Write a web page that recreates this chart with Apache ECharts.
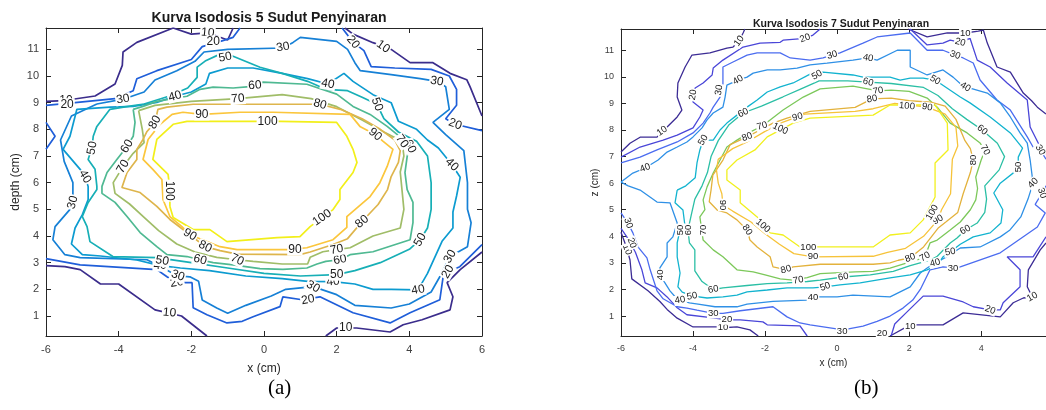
<!DOCTYPE html>
<html>
<head>
<meta charset="utf-8">
<script src="https://cdn.jsdelivr.net/npm/echarts@6/dist/echarts.min.js"></script>
<style>
  html, body { margin: 0; padding: 0; background: #fff; }
  #chart { width: 1046px; height: 410px; }
</style>
</head>
<body>
<div id="chart"></div>
<script>
// contour levels and ticks
const levels = [10, 20, 30, 40, 50, 60, 70, 80, 90, 100];
const yTicks = [1, 2, 3, 4, 5, 6, 7, 8, 9, 10, 11];
const xTicksA = [-6, -4, -2, 0, 2, 4, 6];
const xTicksB = [-6, -4, -2, 0, 2, 4];

// ---- panel (a): 5 beams, each level is a list of line pieces [x, depth] ----
const a10 = [
  [[-6,9.05],[-5.5,9.08],[-4.65,9.25],[-4.1,9.7],[-3.9,10.4],[-3.88,10.9],[-3.5,11.26],[-2.5,11.8],[-2.0,11.57],[-1.55,11.62],[-1.0,11.35],[-0.85,11.8]],
  [[2.23,11.8],[2.45,11.57],[3.0,11.25],[3.5,11.0],[4.02,10.5],[4.65,10.5],[5.12,10.1],[5.58,9.86],[5.67,9.6],[6,8.5]],
  [[-6,2.89],[-5.48,2.85],[-5.06,2.74],[-4.5,2.2],[-4.0,2.2],[-3.0,1.23],[-2.27,1.0],[-1.57,0.25]],
  [[1.7,0.25],[2.0,0.55],[2.55,0.55],[3.47,0.4],[3.83,0.67],[4.35,0.86],[5.12,1.23],[5.2,1.72],[5.04,2.25],[5.4,2.74],[6,3.4]]
];
const a20 = [
  [[-6,8.9],[-5.2,9.0],[-4.1,9.15],[-3.6,9.45],[-3.5,9.9],[-2.95,10.2],[-2.0,10.62],[-1.7,11.1],[-1.2,11.3],[-0.85,11.45],[-0.66,11.8]],
  [[-6,8.26],[-5.75,7.74],[-6,7.25]],
  [[2.15,11.8],[2.45,11.27],[2.75,10.95],[2.95,10.35],[3.6,10.3],[4.6,10.25],[5.1,10.0],[5.3,9.5],[5.3,8.9],[5.0,8.4],[5.26,8.19],[6,7.95]],
  [[-6,3.15],[-5.06,2.92],[-2.95,2.74],[-2.67,2.47],[-2.4,2.25],[-1.98,2.25],[-1.95,1.31],[-1.57,1.05],[-1.02,0.74],[-0.6,0.8],[-0.3,0.97],[0.44,1.35],[0.52,1.72],[1.05,1.61],[1.54,1.72],[2.45,1.12],[3.47,0.74],[4.02,1.12],[4.84,1.61],[4.93,2.47],[5.06,2.66],[5.39,2.85],[6,3.68]]
];
const a30 = [
  [[-4.6,8.95],[-3.88,9.13],[-3.3,9.4],[-3.0,9.85],[-2.4,10.2],[-1.9,10.55],[-1.65,10.9],[-1.0,11.0],[0.52,11.05],[0.8,11.26],[1.0,11.45],[2.0,11.3],[2.3,11.0],[2.5,10.5],[2.65,10.2],[3.5,10.05],[4.3,9.9],[4.76,9.8],[5.0,9.6],[5.1,8.75],[4.65,8.26],[5.0,7.8],[5.5,7.2],[5.6,6.0],[5.6,5.0],[5.7,4.5],[5.6,3.6],[5.12,3.23],[4.85,2.5],[4.6,1.9],[4.0,1.45],[3.5,1.3],[2.5,1.4],[2.0,1.8],[1.35,2.1],[0.6,2.0],[0.2,1.75],[-0.5,1.4],[-1.0,1.1],[-1.3,1.3],[-1.7,1.6],[-1.8,2.3],[-2.04,2.47],[-2.37,2.51],[-2.59,2.66],[-2.95,2.92],[-3.22,3.11],[-5.06,3.19],[-5.48,3.3],[-5.81,3.86],[-5.75,4.35],[-5.34,5.0],[-5.26,5.26],[-5.26,6.0],[-5.5,6.8],[-5.6,7.6],[-5.3,8.5],[-4.6,8.95]]
];
const a40 = [
  [[-5.53,7.25],[-5.34,7.74],[-5.15,8.75],[-4.24,8.83],[-3.6,8.86],[-2.95,9.01],[-2.45,9.24],[-2.0,9.4],[-1.6,9.7],[-1.5,10.1],[-1.0,10.3],[-0.3,10.3],[0.5,10.1],[1.2,9.9],[1.76,9.7],[2.2,10.1],[2.45,9.8],[3.0,9.3],[3.5,9.0],[3.7,8.3],[4.2,8.0],[4.5,7.6],[4.8,7.3],[5.17,6.68],[5.4,6.2],[5.3,5.5],[5.2,4.9],[5.2,4.3],[4.9,3.8],[4.5,2.6],[4.24,1.98],[3.5,2.0],[3.0,2.0],[2.5,2.2],[1.9,2.29],[1.2,2.3],[0.5,2.4],[-0.5,2.5],[-1.5,2.7],[-2.3,2.8],[-2.86,2.89],[-3.5,3.1],[-4.5,3.25],[-5.0,3.3],[-5.3,3.7],[-5.2,4.3],[-5.0,4.8],[-4.84,5.37],[-4.84,5.86],[-4.93,6.23],[-5.06,6.5],[-5.53,7.25]]
];
const a50 = [
  [[-4.6,8.11],[-4.24,8.75],[-3.74,8.86],[-3.3,8.95],[-2.6,9.25],[-2.1,9.55],[-1.84,9.95],[-1.84,10.33],[-1.62,10.56],[-1.21,10.82],[-0.85,10.74],[-0.11,10.33],[0.5,10.1],[1.2,9.8],[1.7,9.5],[2.3,9.45],[2.7,9.2],[3.11,8.94],[3.3,8.4],[3.7,7.9],[4.2,7.55],[4.5,7.0],[4.6,6.0],[4.6,5.0],[4.5,4.3],[4.3,3.86],[4.0,3.5],[3.2,3.0],[2.5,2.7],[2.0,2.55],[1.0,2.5],[0,2.6],[-1.0,2.8],[-2.0,3.0],[-2.95,3.19],[-4.16,3.23],[-4.79,3.79],[-4.87,4.35],[-5.0,4.73],[-4.84,5.26],[-4.6,5.74],[-4.6,5.86],[-4.65,6.5],[-4.84,6.87],[-4.73,7.36],[-4.7,7.74],[-4.6,8.11]]
];
const a60 = [
  [[-3.6,8.75],[-3.55,8.26],[-3.6,7.74],[-3.77,7.36],[-4.05,6.87],[-4.32,6.38],[-4.46,5.86],[-4.46,5.6],[-4.1,5.26],[-3.77,4.73],[-3.41,4.13],[-2.95,3.6],[-2.67,3.3],[-2.12,3.23],[-1.76,3.11],[-1.4,3.0],[-0.85,2.92],[-0.11,2.78],[0.52,2.75],[1.18,2.8],[1.46,2.95],[1.7,3.05],[2.09,3.11],[2.37,3.3],[3.0,3.41],[4.02,3.86],[4.1,4.5],[4.1,5.26],[3.94,5.74],[3.88,6.38],[3.94,6.98],[4.02,7.36],[3.83,7.62],[3.39,8.11],[2.92,8.56],[2.45,8.86],[2.0,9.32],[1.18,9.69],[-0.03,9.77],[-0.39,9.6],[-0.85,9.55],[-1.4,9.58],[-1.76,9.5],[-2.12,9.24],[-2.95,9.05],[-3.33,8.86],[-3.6,8.75]]
];
const a70 = [
  [[-3.45,8.7],[-3.0,8.9],[-2.0,9.05],[-0.72,9.15],[0.5,9.3],[1.3,9.15],[2.0,8.85],[2.7,8.35],[3.3,7.9],[3.8,7.55],[3.85,7.0],[3.75,6.4],[3.8,5.7],[3.85,5.0],[3.75,4.3],[3.0,4.0],[2.37,3.56],[2.0,3.49],[1.62,3.41],[1.27,3.2],[1.2,2.95],[0.5,2.95],[-0.3,3.05],[-0.74,3.11],[-1.3,3.2],[-1.9,3.4],[-2.4,3.7],[-2.9,4.2],[-3.3,4.7],[-3.7,5.2],[-4.1,5.6],[-4.15,6.0],[-3.88,6.6],[-3.6,7.1],[-3.3,7.5],[-3.35,8.0],[-3.45,8.7]]
];
const a80 = [
  [[-3.0,8.26],[-2.92,8.75],[-2.67,8.83],[-1.95,8.94],[-0.1,8.94],[1.0,8.94],[1.54,8.94],[2.1,8.75],[2.7,8.4],[3.2,8.0],[3.6,7.6],[3.75,7.2],[3.7,6.76],[3.5,6.23],[3.4,5.74],[3.14,5.18],[2.75,4.62],[2.3,3.9],[1.9,3.68],[1.27,3.4],[0.99,3.3],[-0.74,3.32],[-1.21,3.45],[-1.62,3.6],[-2.12,4.13],[-2.59,4.62],[-2.95,5.11],[-3.41,5.63],[-3.91,5.82],[-3.77,6.38],[-3.5,6.87],[-3.5,7.25],[-3.33,7.62],[-3.22,7.92],[-3.0,8.26]]
];
const a90 = [
  [[3.06,7.81],[2.64,8.11],[2.37,8.56],[0.25,8.64],[-0.66,8.64],[-1.71,8.56],[-2.23,8.64],[-2.53,8.56],[-2.86,8.19],[-3.19,7.62],[-3.33,6.87],[-3.06,6.5],[-2.81,6.12],[-2.78,5.37],[-2.59,4.73],[-2.26,4.35],[-2.04,4.05],[-1.21,3.6],[-0.74,3.49],[0.63,3.49],[1.18,3.56],[1.9,3.86],[2.28,4.32],[2.28,4.73],[2.92,5.48],[3.19,6.0],[3.39,6.61],[3.55,7.25],[3.28,7.55],[3.06,7.81]]
];
const a100 = [
  [[-2.59,5.11],[-2.5,4.69],[-1.95,4.24],[-1.49,4.24],[-1.02,3.79],[0.36,3.94],[0.99,3.98],[1.27,4.35],[1.6,4.69],[1.9,4.99],[2.09,5.37],[2.09,5.74],[2.45,6.38],[2.56,6.76],[2.45,7.25],[2.28,7.74],[2.0,8.26],[0.44,8.3],[-0.66,8.3],[-2.12,8.3],[-2.5,8.19],[-2.95,7.62],[-3.06,6.87],[-2.64,6.31],[-2.59,5.74],[-2.59,5.11]]
];
// contour label positions [x, y, text, rotation]
const aLabels = [
  [-5.45,9.07,'10',0],[-1.55,11.62,'10',-5],[3.28,11.1,'10',-35],[-2.6,1.12,'10',-5],[2.25,0.55,'10',0],
  [-5.42,8.94,'20',0],[-1.4,11.3,'20',0],[2.45,11.27,'20',-50],[5.26,8.19,'20',-20],[5.06,2.66,'20',60],[1.21,1.61,'20',10],[-2.4,2.25,'20',10],
  [-3.88,9.13,'30',10],[0.52,11.08,'30',10],[4.76,9.8,'30',-10],[5.12,3.23,'30',60],[1.35,2.1,'30',-30],[-2.37,2.51,'30',-20],[-5.26,5.26,'30',75],
  [-2.45,9.24,'40',15],[1.76,9.7,'40',-10],[5.17,6.68,'40',-45],[4.24,1.98,'40',10],[1.9,2.29,'40',5],[-2.86,2.89,'40',0],[-4.93,6.23,'40',-60],
  [-4.73,7.3,'50',80],[-1.07,10.7,'50',10],[3.11,8.94,'50',-70],[4.3,3.86,'50',60],[2.0,2.55,'50',0],[-2.8,3.07,'50',-10],
  [-3.77,7.36,'60',60],[-0.25,9.65,'60',5],[4.02,7.36,'60',-65],[2.09,3.11,'60',10],[-1.76,3.11,'60',-15],
  [-3.88,6.6,'70',60],[-0.72,9.15,'70',5],[3.8,7.55,'70',-55],[2.0,3.49,'70',10],[-0.74,3.11,'70',-25],
  [-3.0,8.26,'80',60],[1.54,8.94,'80',-15],[2.7,4.54,'80',40],[-1.62,3.6,'80',-25],
  [-1.71,8.56,'90',0],[3.06,7.81,'90',-40],[0.85,3.49,'90',0],[-2.04,4.05,'90',-30],
  [-2.6,5.7,'100',-90],[1.6,4.69,'100',35],[0.1,8.3,'100',0]
];

// ---- panel (b): 7 beams, [x, z] ----
const b10 = [
  [[-6,7.17],[-5.75,7.5],[-5.47,7.73],[-5.0,7.73],[-4.86,7.96],[-4.72,8.11],[-4.44,8.49],[-4.31,8.75],[-4.44,9.24],[-4.42,9.77],[-4.22,10.37],[-4.03,10.82],[-3.53,10.9],[-3.06,11.08],[-2.89,11.12],[-2.72,11.35],[-2.61,11.65],[-2.56,11.8]],
  [[1.97,11.8],[2.5,11.5],[3.06,11.65],[3.56,11.65],[3.92,11.72],[4.06,11.76],[4.17,11.27],[4.44,10.37],[4.81,10.18],[5.17,9.39],[5.4,9.1],[5.56,8.86],[5.8,8.6]],
  [[1.47,0.25],[2.03,0.67],[2.94,0.67],[3.5,1.12],[4.53,0.97],[4.89,1.5],[5.17,1.68],[5.42,1.72],[5.28,2.1],[5.31,2.74],[5.64,3.49],[5.8,3.75]],
  [[-6,4.15],[-5.85,3.6],[-5.75,3.11],[-5.7,2.4],[-5.25,1.95],[-4.92,1.55],[-4.72,1.25],[-4.44,0.92],[-4.0,0.59],[-3.33,0.59],[-3.17,0.56],[-2.78,0.59],[-2.42,0.48],[-2.19,0.25]]
];
const b20 = [
  [[-6,6.98],[-5.47,7.36],[-4.83,7.62],[-4.44,7.81],[-4.0,8.08],[-3.81,8.49],[-3.72,8.75],[-4.0,9.05],[-4.0,9.32],[-3.94,9.58],[-3.72,9.77],[-3.47,10.07],[-3.44,10.33],[-3.17,10.63],[-2.61,11.12],[-2.14,11.27],[-1.58,11.3],[-1.5,11.38],[-0.89,11.45],[-0.67,11.57],[-0.47,11.8]],
  [[2.03,11.8],[2.5,11.2],[2.94,11.27],[3.14,11.38],[3.42,11.3],[3.69,11.45],[3.89,10.63],[4.25,10.37],[4.72,9.77],[5.28,9.13],[5.36,8.11],[5.64,7.36],[5.8,7.1]],
  [[5.8,3.98],[5.44,3.23],[4.72,3.23],[5.08,2.74],[5.08,2.1],[4.61,1.5],[4.53,1.23],[4.25,1.23],[3.78,1.35],[3.5,1.53],[2.94,1.75],[2.39,1.75],[1.9,1.1],[1.6,0.7],[1.5,0.25]],
  [[-6,4.3],[-5.8,3.9],[-5.6,3.4],[-5.42,2.74],[-5.33,2.25],[-5.0,2.06],[-4.72,1.72],[-4.44,1.31],[-4.17,1.05],[-3.44,0.93],[-3.06,0.86],[-2.69,0.86],[-2.06,0.78],[-1.94,0.67],[-1.03,0.63],[-0.83,0.25]]
];
const b30 = [
  [[-6,6.76],[-5.47,6.98],[-5.0,7.25],[-4.44,7.55],[-4.0,7.89],[-3.72,8.26],[-3.53,8.64],[-3.44,8.86],[-3.25,9.24],[-3.17,9.62],[-3.17,10.37],[-2.89,10.56],[-2.5,10.82],[-2.22,10.9],[-1.58,10.9],[-1.3,10.71],[-0.75,10.63],[-0.39,10.71],[-0.14,10.82],[0.08,10.9],[0.72,11.27],[1.11,11.5],[2.03,11.65],[2.5,11.0],[2.94,11.0],[3.28,10.82],[3.5,10.71],[3.78,10.52],[3.97,9.88],[4.44,9.13],[4.81,8.75],[5.28,7.74],[5.44,7.36],[5.64,7.25],[5.8,6.9]],
  [[5.8,5.9],[5.69,5.63],[5.5,5.2],[5.78,4.88],[5.56,4.35],[4.53,3.38],[3.42,2.85],[3.22,2.81],[2.94,2.85],[2.58,2.74],[2.44,2.36],[2.31,2.0],[2.1,1.6],[1.83,1.3],[1.47,1.0],[1.11,0.8],[0.72,0.62],[0.17,0.48],[-0.75,0.67],[-1.03,0.74],[-1.39,0.97],[-1.78,1.35],[-2.69,1.2],[-3.17,1.1],[-3.44,1.1],[-3.89,1.22],[-4.17,1.3],[-4.44,1.35],[-4.83,1.65],[-5.0,1.95],[-5.19,2.74],[-5.28,3.19],[-5.53,3.6],[-5.67,4.13],[-5.81,4.5],[-6,4.88]]
];
const b40 = [
  [[-6,6.04],[-5.67,6.38],[-5.33,6.57],[-4.97,6.87],[-4.72,7.17],[-4.44,7.36],[-4.17,7.55],[-4.0,7.74],[-3.75,8.08],[-3.61,8.38],[-3.44,8.64],[-3.17,8.86],[-3.11,9.24],[-3.06,9.69],[-2.75,9.88],[-2.5,9.99],[-2.33,10.14],[-1.94,10.26],[-1.58,10.26],[-1.11,10.33],[-0.75,10.45],[-0.28,10.52],[0.44,10.63],[0.86,10.71],[1.11,10.63],[1.67,11.0],[2.03,11.0],[2.03,10.37],[2.5,10.07],[2.94,10.26],[3.22,9.99],[3.5,9.65],[3.69,9.58],[4.17,9.39],[4.53,9.02],[4.81,8.49],[5.08,7.89],[5.28,7.51],[5.36,6.87],[5.44,6.0],[5.3,5.4],[5.1,4.73],[4.8,4.24],[4.53,3.98],[3.97,3.6],[3.42,3.56],[3.0,3.2],[2.72,3.0],[2.5,2.81],[2.31,2.62],[2.03,2.1],[1.47,1.72],[0.44,1.79],[0,1.72],[-0.56,1.72],[-0.83,1.6],[-1.78,1.55],[-2.5,1.45],[-2.78,1.35],[-3.39,1.35],[-3.86,1.45],[-4.1,1.5],[-4.45,1.65],[-4.64,1.95],[-4.92,2.55],[-4.92,2.81],[-4.72,3.23],[-4.72,3.75],[-4.56,3.98],[-4.44,4.5],[-4.64,5.26],[-5.0,5.29],[-5.47,5.74],[-5.8,5.9],[-6,6.04]]
];
const b50 = [
  [[-4.44,5.74],[-4.5,5.26],[-4.28,4.99],[-4.22,4.35],[-4.36,4.24],[-4.44,3.75],[-4.44,3.23],[-4.36,2.62],[-4.42,2.1],[-4.3,1.9],[-4.0,1.75],[-3.61,1.68],[-3.17,1.72],[-2.78,1.79],[-2.5,1.91],[-1.94,1.98],[-1.39,2.06],[-0.67,2.06],[-0.33,2.1],[0.08,2.17],[0.64,2.25],[1.47,2.44],[2.03,2.55],[2.5,2.74],[2.78,2.92],[2.94,3.23],[3.14,3.41],[3.42,3.7],[3.78,3.98],[4.25,4.13],[4.55,4.5],[4.6,5.0],[4.35,5.63],[4.53,6.0],[5.0,6.5],[5.03,6.61],[5.03,6.98],[5.15,7.32],[4.81,7.89],[4.25,8.49],[3.69,9.02],[3.42,9.24],[2.72,9.88],[2.39,9.95],[2.03,9.95],[1.75,9.88],[1.47,9.99],[0.72,9.99],[0.44,10.07],[-0.39,10.18],[-0.75,10.1],[-1.22,9.77],[-1.58,9.62],[-1.94,9.43],[-2.22,9.13],[-2.5,8.86],[-2.78,8.56],[-3.06,8.26],[-3.25,8.0],[-3.44,7.62],[-3.72,7.62],[-3.81,7.25],[-3.89,6.76],[-3.94,6.2],[-4.2,5.9],[-4.44,5.74]]
];
const b60 = [
  [[-3.95,5.4],[-4.05,4.8],[-4.14,4.24],[-4.1,3.75],[-3.95,3.49],[-3.95,2.7],[-3.75,2.3],[-3.44,2.0],[-3.17,2.06],[-2.5,2.15],[-1.94,2.22],[-1.39,2.25],[-0.83,2.3],[-0.47,2.35],[0.17,2.47],[0.92,2.55],[1.56,2.68],[2.03,2.9],[2.58,3.1],[2.78,3.25],[3.14,3.75],[3.33,3.94],[3.56,4.24],[3.89,4.5],[4.1,4.9],[4.15,5.4],[4.1,5.9],[4.5,6.5],[4.65,7.0],[4.45,7.5],[4.03,8.0],[3.6,8.4],[3.2,8.8],[2.8,9.3],[2.4,9.6],[1.5,9.75],[0.86,9.8],[0.3,9.85],[-0.5,9.85],[-1.0,9.55],[-1.5,9.25],[-2.1,8.9],[-2.61,8.64],[-3.0,8.2],[-3.3,7.6],[-3.5,7.0],[-3.6,6.4],[-3.75,5.9],[-3.95,5.4]]
];
const b70 = [
  [[1.14,9.47],[0.44,9.65],[-0.47,9.55],[-0.94,9.24],[-1.5,8.75],[-1.86,8.38],[-2.08,8.15],[-2.42,7.92],[-2.78,7.62],[-3.06,7.36],[-3.25,6.87],[-3.44,6.38],[-3.61,5.86],[-3.72,5.37],[-3.67,5.0],[-3.81,4.73],[-3.72,3.86],[-3.44,3.49],[-3.17,3.23],[-2.78,2.74],[-2.33,2.66],[-2.0,2.55],[-1.58,2.4],[-1.22,2.35],[-0.83,2.45],[-0.47,2.6],[0.5,2.66],[1.0,2.68],[1.47,2.8],[1.83,2.95],[2.31,3.15],[2.44,3.23],[2.58,3.75],[2.78,3.86],[3.14,4.24],[3.42,4.54],[3.7,5.0],[3.85,5.37],[3.9,5.8],[3.85,6.23],[4.0,6.87],[4.11,7.25],[3.97,7.51],[3.61,7.89],[3.14,8.26],[2.78,8.86],[2.5,9.2],[2.0,9.45],[1.5,9.5],[1.14,9.47]]
];
const b80 = [
  [[-3.45,6.3],[-3.5,5.74],[-3.55,5.3],[-3.33,4.99],[-3.06,4.88],[-2.78,4.62],[-2.5,4.24],[-2.42,3.86],[-2.22,3.6],[-1.86,3.23],[-1.78,2.85],[-1.42,2.75],[-1.22,2.85],[-0.47,2.95],[1.0,2.95],[1.47,3.0],[1.7,3.1],[2.03,3.19],[2.4,3.6],[2.8,4.3],[3.35,4.9],[3.5,5.6],[3.7,6.4],[3.78,6.87],[3.7,7.3],[3.55,7.6],[3.3,8.4],[3.0,8.9],[2.6,9.05],[2.0,9.1],[1.5,9.2],[0.97,9.17],[0.5,8.85],[-0.75,8.7],[-1.39,8.45],[-1.78,8.26],[-2.14,8.0],[-2.5,7.74],[-2.97,7.45],[-3.17,6.87],[-3.45,6.3]]
];
const b90 = [
  [[-0.9,8.6],[0.5,8.7],[1.0,8.8],[1.6,9.0],[2.5,8.86],[3.0,8.6],[3.3,8.1],[3.35,7.4],[3.2,6.9],[3.15,5.6],[2.9,5.0],[2.8,4.62],[2.4,4.0],[1.9,3.55],[1.4,3.4],[1.0,3.25],[-0.67,3.23],[-1.2,3.35],[-1.6,3.7],[-2.0,4.1],[-2.4,4.55],[-2.9,4.95],[-3.17,5.18],[-3.2,5.6],[-3.3,6.0],[-3.35,6.5],[-3.3,6.9],[-2.9,7.3],[-2.5,7.55],[-2.0,7.95],[-1.5,8.3],[-1.1,8.49],[-0.9,8.6]]
];
const b100 = [
  [[2.72,8.94],[3.06,8.26],[3.08,7.25],[2.72,6.76],[2.72,5.48],[2.39,4.62],[2.03,4.13],[1.47,4.05],[1.0,3.6],[-0.47,3.6],[-1.03,3.6],[-1.5,4.05],[-1.86,4.13],[-2.22,4.73],[-2.69,5.26],[-2.69,5.74],[-3.06,6.12],[-3.06,6.5],[-2.78,6.87],[-2.28,7.25],[-1.94,7.74],[-1.22,8.26],[-0.75,8.45],[1.0,8.56],[1.47,8.94],[2.72,8.94]]
];
const bLabels = [
  [-4.86,7.96,'10',35],[-2.72,11.35,'10',55],[3.56,11.65,'10',0],[5.42,1.72,'10',30],[2.03,0.6,'10',0],[-3.17,0.56,'10',0],[-5.83,3.5,'10',-70],
  [-4.0,9.32,'20',80],[-0.89,11.45,'20',20],[3.42,11.3,'20',-15],[4.25,1.23,'20',-20],[1.25,0.33,'20',0],[-3.06,0.86,'20',0],[-5.7,3.75,'20',-70],
  [-3.28,9.5,'30',80],[-0.14,10.82,'30',15],[3.28,10.82,'30',-20],[5.64,7.25,'30',-60],[5.69,5.63,'30',-70],[3.22,2.81,'30',0],[0.14,0.44,'30',0],[-3.44,1.1,'30',0],[-5.8,4.5,'30',-70],
  [-2.75,9.88,'40',30],[-5.33,6.57,'40',20],[-4.92,2.55,'40',90],[-4.36,1.6,'40',10],[-0.67,1.72,'40',0],[2.72,3.0,'40',15],[5.44,6.0,'40',45],[3.56,9.62,'40',-30],[0.86,10.71,'40',-10],
  [-0.56,10.07,'50',30],[-3.72,7.62,'50',60],[-4.36,4.24,'50',90],[-4.03,1.75,'50',10],[-0.33,2.1,'50',20],[3.14,3.41,'50',10],[5.03,6.61,'50',90],[2.72,9.88,'50',-30],
  [-2.61,8.64,'60',25],[-4.14,4.24,'60',90],[-3.44,2.0,'60',10],[0.17,2.47,'60',10],[3.56,4.24,'60',30],[4.03,8.0,'60',-40],[0.86,9.8,'60',-15],
  [-2.08,8.15,'70',15],[-3.72,4.24,'70',90],[-1.08,2.35,'70',10],[2.44,3.23,'70',30],[4.11,7.25,'70',-60],[1.14,9.47,'70',10],
  [-2.5,7.74,'80',20],[-2.5,4.24,'80',-55],[-1.42,2.75,'80',15],[2.03,3.19,'80',20],[3.78,6.87,'80',90],[0.97,9.17,'80',10],
  [-1.1,8.49,'90',15],[-3.17,5.18,'90',-90],[-0.67,3.23,'90',0],[2.8,4.62,'90',30],[2.5,8.86,'90',-10],
  [-1.58,8.05,'100',-25],[-2.06,4.4,'100',-40],[-0.8,3.6,'100',0],[2.64,4.9,'100',60],[1.94,8.9,'100',-5]
];

const coloursA = ['#3b2d8c','#1f5ed9','#1680d6','#0c9bd0','#17afb6','#4fb992','#a0bd68','#deb54c','#fbc63c','#f2ef1a'];
const coloursB = ['#3c2c95','#4a46d8','#4b6cf0','#2f90e6','#12b3cf','#2bbfa5','#7cc85a','#e3b23c','#f6c33a','#f1f01e'];

const contoursA = [a10, a20, a30, a40, a50, a60, a70, a80, a90, a100];
const contoursB = [b10, b20, b30, b40, b50, b60, b70, b80, b90, b100];

let myChart = echarts.init(document.getElementById('chart'));

function lineSeries(contours, colours, width, xi, yi) {
  let out = [];
  contours.forEach((pieces, i) => {
    pieces.forEach(p => {
      out.push({
        type: 'line', xAxisIndex: xi, yAxisIndex: yi, data: p,
        showSymbol: false, symbol: 'none', silent: true, z: 2,
        lineStyle: { color: colours[i], width: width }
      });
    });
  });
  return out;
}

function labelSeries(labels, size, xi, yi) {
  return {
    type: 'scatter', xAxisIndex: xi, yAxisIndex: yi, symbolSize: 1, silent: true, z: 5,
    itemStyle: { color: 'rgba(0,0,0,0)' },
    data: labels.map(l => ({
      value: [l[0], l[1]], name: l[2],
      label: { rotate: l[3] }
    })),
    label: {
      show: true, position: 'inside', formatter: '{b}', opacity: 1,
      fontFamily: 'Liberation Sans', fontSize: size, color: '#1a1a1a',
      backgroundColor: '#fff', padding: [0, 1]
    }
  };
}

function xAxisFor(grid, min, max, ticks, pos, showLabel, size, name, gap) {
  return {
    type: 'value', gridIndex: grid, min: min, max: max, position: pos,
    name: name, nameLocation: 'middle', nameGap: gap,
    nameTextStyle: { fontFamily: 'Liberation Sans', fontSize: size + 1, color: '#262626' },
    axisLine: { show: true, onZero: false, lineStyle: { color: '#262626', width: 1 } },
    axisTick: { show: true, inside: true, length: 5, customValues: ticks, lineStyle: { color: '#262626' } },
    axisLabel: { show: showLabel, customValues: ticks, fontFamily: 'Liberation Sans', fontSize: size, color: '#404040', margin: 8 },
    splitLine: { show: false }
  };
}

function yAxisFor(grid, pos, showLabel, size, name, gap) {
  return {
    type: 'value', gridIndex: grid, min: 0.25, max: 11.8, position: pos,
    name: name, nameLocation: 'middle', nameGap: gap,
    nameTextStyle: { fontFamily: 'Liberation Sans', fontSize: size + 1, color: '#262626' },
    axisLine: { show: true, onZero: false, lineStyle: { color: '#262626', width: 1 } },
    axisTick: { show: true, inside: true, length: 5, customValues: yTicks, lineStyle: { color: '#262626' } },
    axisLabel: { show: showLabel, customValues: yTicks, fontFamily: 'Liberation Sans', fontSize: size, color: '#404040', margin: 7 },
    splitLine: { show: false }
  };
}

let option = {
  backgroundColor: '#fff',
  animation: false,
  title: [
    { text: 'Kurva Isodosis 5 Sudut Penyinaran', left: 264, top: 6, textAlign: 'center',
      textStyle: { fontFamily: 'Liberation Sans', fontSize: 14, fontWeight: 'bold', color: '#1a1a1a' } },
    { text: 'Kurva Isodosis 7 Sudut Penyinaran', left: 836, top: 14, textAlign: 'center',
      textStyle: { fontFamily: 'Liberation Sans', fontSize: 10.5, fontWeight: 'bold', color: '#1a1a1a' } }
  ],
  grid: [
    { left: 46, top: 28, width: 436, height: 308 },
    { left: 621, top: 29, width: 426, height: 307 }
  ],
  xAxis: [
    xAxisFor(0, -6, 6, xTicksA, 'bottom', true, 11, 'x (cm)', 27),
    xAxisFor(0, -6, 6, xTicksA, 'top', false, 11, '', 0),
    xAxisFor(1, -6, 5.8, xTicksB, 'bottom', true, 9, 'x (cm)', 21),
    xAxisFor(1, -6, 5.8, xTicksB, 'top', false, 9, '', 0)
  ],
  yAxis: [
    yAxisFor(0, 'left', true, 11, 'depth (cm)', 24),
    yAxisFor(0, 'right', false, 11, '', 0),
    yAxisFor(1, 'left', true, 9, 'z (cm)', 16)
  ],
  graphic: [
    { type: 'text', left: 268, top: 378, style: { text: '(a)', font: '21px "Liberation Serif"', fill: '#000' } },
    { type: 'text', left: 854, top: 378, style: { text: '(b)', font: '21px "Liberation Serif"', fill: '#000' } }
  ],
  series: [].concat(
    lineSeries(contoursA, coloursA, 1.7, 0, 0),
    lineSeries(contoursB, coloursB, 1.3, 2, 2),
    [labelSeries(aLabels, 12, 0, 0), labelSeries(bLabels, 9.5, 2, 2)]
  )
};

myChart.setOption(option);
</script>
</body>
</html>
